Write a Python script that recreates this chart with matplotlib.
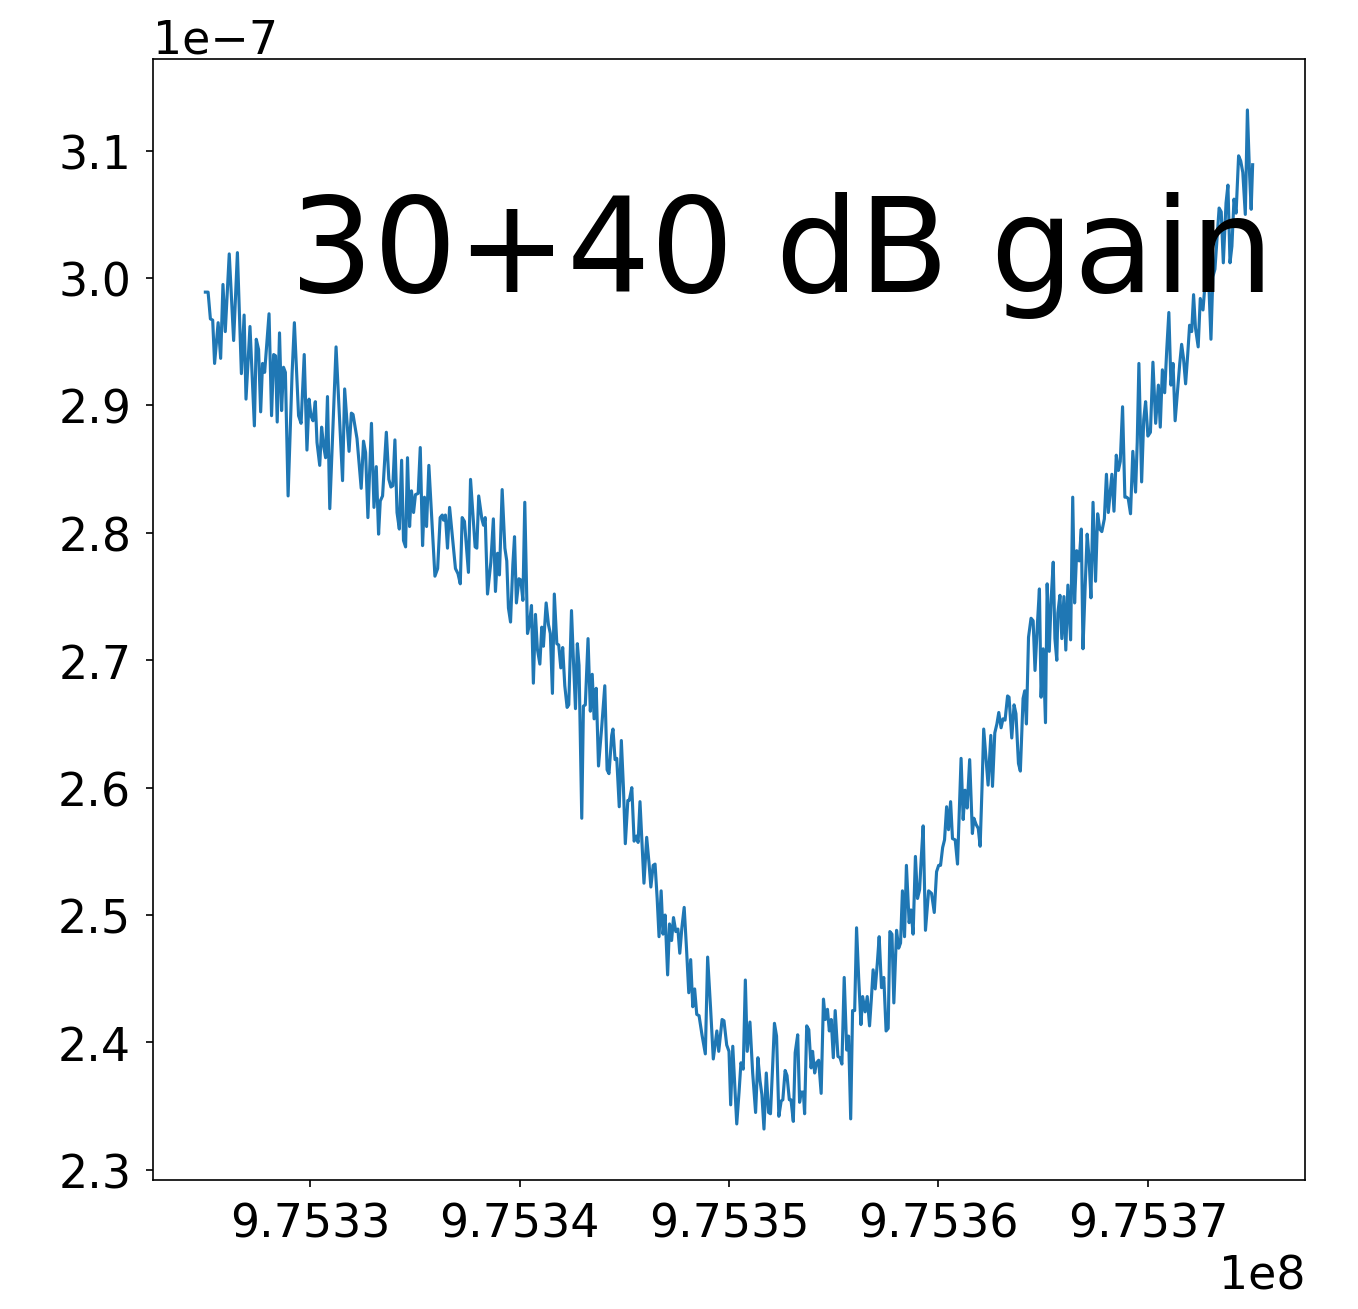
import numpy as np
import matplotlib
matplotlib.use("Agg")
import matplotlib.pyplot as plt

# Sweep start (Hz) and offsets of each sample from it (kHz)
f_start = 975325000.0
offset_khz = [
    0.00, 0.13, 0.24, 0.35, 0.44, 0.61, 0.73, 0.84, 0.95, 1.14,
    1.35, 1.53, 1.72, 1.85, 1.94, 2.13, 2.34, 2.43, 2.54, 2.64,
    2.73, 2.83, 3.04, 3.16, 3.26, 3.35, 3.43, 3.54, 3.64, 3.73,
    3.82, 3.95, 4.14, 4.25, 4.45, 4.57, 4.72, 4.85, 4.95, 5.04,
    5.14, 5.25, 5.33, 5.46, 5.55, 5.64, 5.74, 5.83, 5.94, 6.24,
    6.55, 6.65, 6.86, 6.97, 7.05, 7.24, 7.44, 7.55, 7.65, 7.76,
    7.93, 8.05, 8.16, 8.27, 8.35, 8.46, 8.64, 8.76, 8.86, 8.95,
    9.05, 9.15, 9.26, 9.37, 9.46, 9.56, 9.65, 9.75, 9.84, 9.94,
    10.03, 10.16, 10.26, 10.37, 10.46, 10.56, 10.67, 10.96, 11.09, 11.21,
    11.31, 11.37, 11.46, 11.56, 11.66, 11.94, 12.06, 12.17, 12.26, 12.37,
    12.56, 12.66, 12.88, 12.96, 13.05, 13.20, 13.28, 13.36, 13.47, 13.63,
    13.75, 13.85, 13.95, 14.04, 14.17, 14.30, 14.39, 14.47, 14.57, 14.68,
    14.76, 14.85, 14.97, 15.06, 15.16, 15.25, 15.38, 15.47, 15.57, 15.66,
    15.76, 15.85, 15.97, 16.06, 16.14, 16.27, 16.38, 16.47, 16.57, 16.66,
    16.78, 16.87, 16.97, 17.06, 17.16, 17.27, 17.35, 17.48, 17.57, 17.67,
    17.76, 17.84, 17.97, 18.05, 18.14, 18.27, 18.38, 18.47, 18.56, 18.66,
    18.77, 18.92, 19.07, 19.18, 19.27, 19.40, 19.46, 19.56, 19.64, 19.76,
    19.86, 19.96, 20.05, 20.17, 20.24, 20.36, 20.47, 20.58, 20.66, 20.75,
    20.94, 21.07, 21.18, 21.27, 21.38, 21.47, 21.57, 21.66, 21.76, 21.85,
    21.95, 22.07, 22.16, 22.26, 22.35, 22.46, 22.56, 22.65, 22.75, 22.86,
    22.97, 23.08, 23.17, 23.27, 23.36, 23.46, 23.57, 23.71, 23.87, 23.98,
    24.12, 24.25, 24.42, 24.51, 24.67, 24.76, 24.89, 25.00, 25.08, 25.18,
    25.27, 25.37, 25.48, 25.57, 25.68, 25.78, 25.87, 26.00, 26.13, 26.27,
    26.38, 26.48, 26.57, 26.67, 26.78, 26.89, 26.98, 27.08, 27.17, 27.27,
    27.38, 27.49, 27.57, 27.68, 27.77, 27.88, 27.96, 28.07, 28.16, 28.28,
    28.37, 28.45, 28.55, 28.61, 28.71, 28.81, 28.92, 28.99, 29.09, 29.18,
    29.28, 29.40, 29.51, 29.60, 29.70, 29.79, 29.88, 29.98, 30.07, 30.20,
    30.30, 30.39, 30.50, 30.62, 30.71, 30.81, 30.90, 31.00, 31.09, 31.19,
    31.30, 31.38, 31.50, 31.60, 31.71, 31.80, 31.88, 31.98, 32.08, 32.17,
    32.28, 32.39, 32.50, 32.60, 32.68, 32.78, 32.87, 33.00, 33.10, 33.19,
    33.28, 33.38, 33.47, 33.60, 33.69, 33.79, 33.90, 34.00, 34.10, 34.18,
    34.27, 34.38, 34.53, 34.67, 34.80, 34.91, 35.01, 35.10, 35.20, 35.29,
    35.39, 35.48, 35.58, 35.67, 35.80, 35.91, 36.00, 36.08, 36.18, 36.27,
    36.37, 36.49, 36.62, 36.69, 36.80, 36.90, 36.99, 37.08, 37.16, 37.27,
    37.37, 37.50, 37.58, 37.69, 37.79, 37.88, 37.99, 38.08, 38.18, 38.30,
    38.37, 38.50, 38.61, 38.70, 38.82, 38.91, 39.04, 39.12, 39.20, 39.30,
    39.42, 39.52, 39.61, 39.73, 39.82, 39.90, 40.00, 40.11, 40.19, 40.29,
    40.38, 40.48, 40.56, 40.65, 40.70, 40.80, 40.89, 40.99, 41.08, 41.18,
    41.31, 41.41, 41.50, 41.60, 41.72, 41.82, 41.90, 42.00, 42.10, 42.19,
    42.28, 42.38, 42.50, 42.60, 42.70, 42.80, 42.92, 43.02, 43.11, 43.20,
    43.28, 43.38, 43.49, 43.59, 43.68, 43.79, 43.90, 43.98, 44.06, 44.17,
    44.28, 44.41, 44.49, 44.57, 44.70, 44.80, 44.89, 45.00, 45.12, 45.24,
    45.37, 45.50, 45.59, 45.69, 45.80, 45.90, 46.00, 46.10, 46.20, 46.30,
    46.42, 46.52, 46.61, 46.70, 46.80, 46.90, 46.99, 47.09, 47.18, 47.27,
    47.40, 47.50, 47.63, 47.72, 47.87, 48.01, 48.10, 48.20, 48.30, 48.40,
    48.50, 48.60, 48.73, 48.82, 48.92, 49.01, 49.11, 49.21, 49.33, 49.43,
    49.53, 49.65, 49.75, 49.85, 49.93, 50.00,
]

# Detected power (units of 1e-7)
power_e7 = [
    2.989, 2.989, 2.968, 2.967, 2.933, 2.965, 2.937, 2.995, 2.958, 3.019,
    2.951, 3.020, 2.925, 2.971, 2.905, 2.962, 2.884, 2.952, 2.944, 2.895,
    2.933, 2.926, 2.972, 2.892, 2.940, 2.939, 2.887, 2.957, 2.896, 2.930,
    2.926, 2.829, 2.925, 2.965, 2.892, 2.886, 2.940, 2.865, 2.905, 2.892,
    2.888, 2.903, 2.871, 2.853, 2.883, 2.869, 2.859, 2.907, 2.819, 2.946,
    2.841, 2.913, 2.864, 2.894, 2.893, 2.874, 2.835, 2.872, 2.863, 2.812,
    2.886, 2.820, 2.852, 2.799, 2.825, 2.829, 2.879, 2.842, 2.836, 2.837,
    2.873, 2.816, 2.803, 2.857, 2.794, 2.789, 2.859, 2.805, 2.833, 2.816,
    2.830, 2.831, 2.867, 2.790, 2.828, 2.805, 2.853, 2.766, 2.772, 2.812,
    2.814, 2.810, 2.814, 2.788, 2.820, 2.772, 2.768, 2.760, 2.812, 2.809,
    2.769, 2.842, 2.789, 2.788, 2.829, 2.811, 2.806, 2.812, 2.752, 2.777,
    2.811, 2.754, 2.784, 2.767, 2.834, 2.788, 2.778, 2.741, 2.730, 2.775,
    2.797, 2.745, 2.764, 2.763, 2.747, 2.824, 2.721, 2.728, 2.743, 2.682,
    2.736, 2.709, 2.697, 2.726, 2.711, 2.745, 2.728, 2.721, 2.674, 2.752,
    2.713, 2.712, 2.694, 2.710, 2.680, 2.663, 2.665, 2.739, 2.701, 2.662,
    2.713, 2.696, 2.576, 2.664, 2.665, 2.717, 2.660, 2.689, 2.654, 2.678,
    2.617, 2.647, 2.680, 2.614, 2.611, 2.641, 2.646, 2.622, 2.623, 2.585,
    2.637, 2.600, 2.556, 2.590, 2.590, 2.600, 2.558, 2.562, 2.557, 2.589,
    2.525, 2.561, 2.541, 2.522, 2.539, 2.540, 2.513, 2.483, 2.519, 2.485,
    2.500, 2.453, 2.493, 2.480, 2.498, 2.487, 2.489, 2.470, 2.490, 2.506,
    2.474, 2.439, 2.465, 2.428, 2.442, 2.422, 2.421, 2.406, 2.391, 2.467,
    2.427, 2.387, 2.409, 2.393, 2.418, 2.417, 2.398, 2.393, 2.351, 2.397,
    2.368, 2.336, 2.361, 2.384, 2.379, 2.449, 2.393, 2.416, 2.376, 2.345,
    2.388, 2.370, 2.359, 2.332, 2.376, 2.345, 2.344, 2.380, 2.415, 2.405,
    2.342, 2.354, 2.355, 2.378, 2.374, 2.355, 2.355, 2.338, 2.392, 2.406,
    2.353, 2.361, 2.361, 2.344, 2.413, 2.410, 2.380, 2.393, 2.376, 2.384,
    2.386, 2.360, 2.434, 2.418, 2.426, 2.409, 2.418, 2.388, 2.425, 2.389,
    2.388, 2.383, 2.451, 2.394, 2.405, 2.340, 2.425, 2.425, 2.490, 2.451,
    2.414, 2.436, 2.424, 2.436, 2.413, 2.435, 2.457, 2.442, 2.462, 2.483,
    2.443, 2.451, 2.409, 2.411, 2.487, 2.485, 2.431, 2.488, 2.474, 2.478,
    2.519, 2.483, 2.539, 2.494, 2.504, 2.485, 2.546, 2.513, 2.520, 2.545,
    2.570, 2.488, 2.519, 2.517, 2.502, 2.534, 2.539, 2.539, 2.553, 2.559,
    2.585, 2.567, 2.589, 2.560, 2.559, 2.540, 2.584, 2.623, 2.575, 2.598,
    2.584, 2.622, 2.564, 2.576, 2.571, 2.568, 2.554, 2.600, 2.646, 2.623,
    2.602, 2.641, 2.601, 2.643, 2.650, 2.659, 2.647, 2.654, 2.653, 2.672,
    2.671, 2.639, 2.665, 2.658, 2.619, 2.613, 2.670, 2.676, 2.650, 2.718,
    2.733, 2.731, 2.692, 2.730, 2.756, 2.671, 2.709, 2.651, 2.760, 2.707,
    2.748, 2.777, 2.717, 2.700, 2.737, 2.751, 2.717, 2.750, 2.708, 2.759,
    2.716, 2.828, 2.745, 2.786, 2.778, 2.803, 2.709, 2.756, 2.799, 2.780,
    2.749, 2.824, 2.762, 2.815, 2.803, 2.801, 2.811, 2.846, 2.816, 2.832,
    2.846, 2.817, 2.861, 2.849, 2.856, 2.899, 2.828, 2.828, 2.827, 2.815,
    2.864, 2.832, 2.871, 2.933, 2.840, 2.889, 2.903, 2.876, 2.879, 2.934,
    2.886, 2.916, 2.883, 2.928, 2.910, 2.944, 2.973, 2.916, 2.933, 2.888,
    2.913, 2.933, 2.948, 2.937, 2.917, 2.940, 2.963, 2.958, 2.987, 2.961,
    2.946, 2.984, 2.975, 2.994, 3.011, 2.952, 3.001, 3.007, 3.031, 3.055,
    3.052, 3.012, 3.059, 3.073, 3.012, 3.025, 3.062, 3.051, 3.096, 3.092,
    3.083, 3.050, 3.132, 3.083, 3.054, 3.089,
]

label = "30+40 dB gain"

freq = f_start + np.array(offset_khz) * 1e3
power = np.array(power_e7) * 1e-7

plt.rcParams['font.size'] = 22
plt.rcParams['xtick.major.pad'] = 7
plt.rcParams['ytick.major.pad'] = 7

fig = plt.figure(figsize=(1358 / 150, 1310 / 150), dpi=150)
ax = fig.add_axes([153 / 1358, 129 / 1310, 1152 / 1358, 1121 / 1310])
ax.plot(freq, power)
ax.ticklabel_format(axis='x', useOffset=False)
ax.text(0.119, 0.793, label, transform=ax.transAxes,
        fontsize=63, va='baseline', ha='left')

fig.savefig('out.png', dpi=150)
